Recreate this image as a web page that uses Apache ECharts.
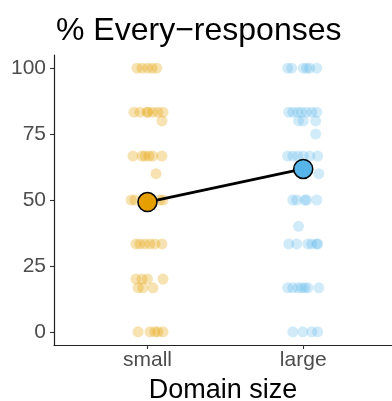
<!DOCTYPE html>
<html>
<head>
<meta charset="utf-8">
<script src="https://cdn.jsdelivr.net/npm/echarts@6/dist/echarts.min.js"></script>
<style>
  html, body { margin: 0; padding: 0; background: #fff; }
  #chart { width: 392px; height: 401px; }
</style>
</head>
<body>
<div id="chart"></div>
<script>
// Domain-size conditions (x positions 1 and 2)
const categories = ['small', 'large'];
const yTicks = [0, 25, 50, 75, 100];

// Per-participant percentages with their horizontal jitter offsets
const smallValues = [100, 100, 100, 100, 100,
  83.33, 83.33, 83.33, 83.33, 83.33, 83.33, 83.33, 80,
  66.67, 66.67, 66.67, 66.67, 66.67, 66.67, 60,
  50, 50, 50, 50,
  33.33, 33.33, 33.33, 33.33, 33.33, 33.33,
  20, 20, 20, 20, 16.67, 16.67, 16.67,
  0, 0, 0, 0, 0];
const smallJitter = [-0.067, -0.035, 0, 0.03, 0.06,
  -0.087, -0.048, -0.003, 0.003, 0.035, 0.067, 0.1, 0.093,
  -0.093, -0.035, -0.016, 0.01, 0.035, 0.093, 0.055,
  -0.105, -0.08, 0.08, 0.1,
  -0.074, -0.048, -0.016, 0.016, 0.048, 0.093,
  -0.074, -0.035, 0, 0.1, -0.06, -0.03, 0.035,
  -0.06, 0.016, 0.048, 0.067, 0.1];

const largeValues = [100, 100, 100, 100, 100, 100,
  83.33, 83.33, 83.33, 83.33, 83.33, 83.33, 83.33, 80, 80, 80, 75,
  66.67, 66.67, 66.67, 66.67, 66.67, 66.67, 60,
  50, 50, 50, 50, 50, 40,
  33.33, 33.33, 33.33, 33.33, 33.33, 33.33,
  16.67, 16.67, 16.67, 16.67, 16.67, 16.67, 16.67,
  0, 0, 0, 0];
const largeJitter = [-0.1, -0.074, 0, 0.022, 0.042, 0.087,
  -0.093, -0.067, -0.035, -0.01, 0.022, 0.055, 0.087, -0.03, 0, 0.08, 0.08,
  -0.1, -0.067, -0.035, 0, 0.042, 0.093, 0.1,
  -0.067, -0.042, 0.01, 0.022, 0.087, -0.03,
  -0.093, -0.042, 0.03, 0.055, 0.087, 0.093,
  -0.1, -0.067, -0.035, -0.01, 0.01, 0.03, 0.1,
  -0.067, -0.003, 0.055, 0.093];

// Condition means
const meanValues = [49.2, 61.8];

const colors = ['#E69F00', '#56B4E9'];
const pointColors = ['rgba(230,159,0,0.3)', 'rgba(86,180,233,0.27)'];
const FONT = '"Liberation Sans", Arial, sans-serif';

function toPoints(pos, values, jitter) {
  return values.map((v, i) => [pos + jitter[i], v]);
}

const chart = echarts.init(document.getElementById('chart'), null, { renderer: 'canvas' });

chart.setOption({
  animation: false,
  backgroundColor: '#ffffff',
  title: {
    text: '% Every\u2212responses',
    left: 51,
    top: 10,
    textStyle: { fontFamily: FONT, fontSize: 32, fontWeight: 'normal', color: '#000' }
  },
  grid: { left: 54, right: 0, top: 55, bottom: 56, containLabel: false, outerBoundsMode: 'none' },
  xAxis: {
    type: 'value',
    min: 0.4,
    max: 2.57,
    name: 'Domain size',
    nameLocation: 'middle',
    nameGap: 32,
    nameTextStyle: { fontFamily: FONT, fontSize: 27, color: '#000' },
    axisLine: { show: true, onZero: false, lineStyle: { color: '#222', width: 1.2 } },
    axisTick: { show: true, length: 4, customValues: [1, 2], lineStyle: { color: '#333', width: 1.1 } },
    axisLabel: {
      customValues: [1, 2],
      margin: 5,
      formatter: v => categories[Math.round(v) - 1] || '',
      fontFamily: FONT, fontSize: 21, color: '#4d4d4d'
    },
    splitLine: { show: false }
  },
  yAxis: {
    type: 'value',
    min: -5,
    max: 105,
    axisLine: { show: true, onZero: false, lineStyle: { color: '#222', width: 1.2 } },
    axisTick: { show: true, length: 4, customValues: yTicks, lineStyle: { color: '#333', width: 1.1 } },
    axisLabel: {
      customValues: yTicks,
      margin: 8,
      fontFamily: FONT, fontSize: 21, color: '#4d4d4d'
    },
    splitLine: { show: false }
  },
  series: [
    {
      type: 'scatter',
      data: toPoints(1, smallValues, smallJitter),
      symbolSize: 11,
      itemStyle: { color: pointColors[0], opacity: 1 },
      z: 1
    },
    {
      type: 'scatter',
      data: toPoints(2, largeValues, largeJitter),
      symbolSize: 11,
      itemStyle: { color: pointColors[1], opacity: 1 },
      z: 1
    },
    {
      type: 'line',
      data: meanValues.map((v, i) => [i + 1, v]),
      showSymbol: false,
      lineStyle: { color: '#000', width: 2.8 },
      z: 2
    },
    {
      type: 'scatter',
      data: meanValues.map((v, i) => ({ value: [i + 1, v], itemStyle: { color: colors[i] } })),
      symbolSize: 19,
      itemStyle: { borderColor: '#000', borderWidth: 1.5, opacity: 1 },
      z: 3
    }
  ]
});
</script>
</body>
</html>
